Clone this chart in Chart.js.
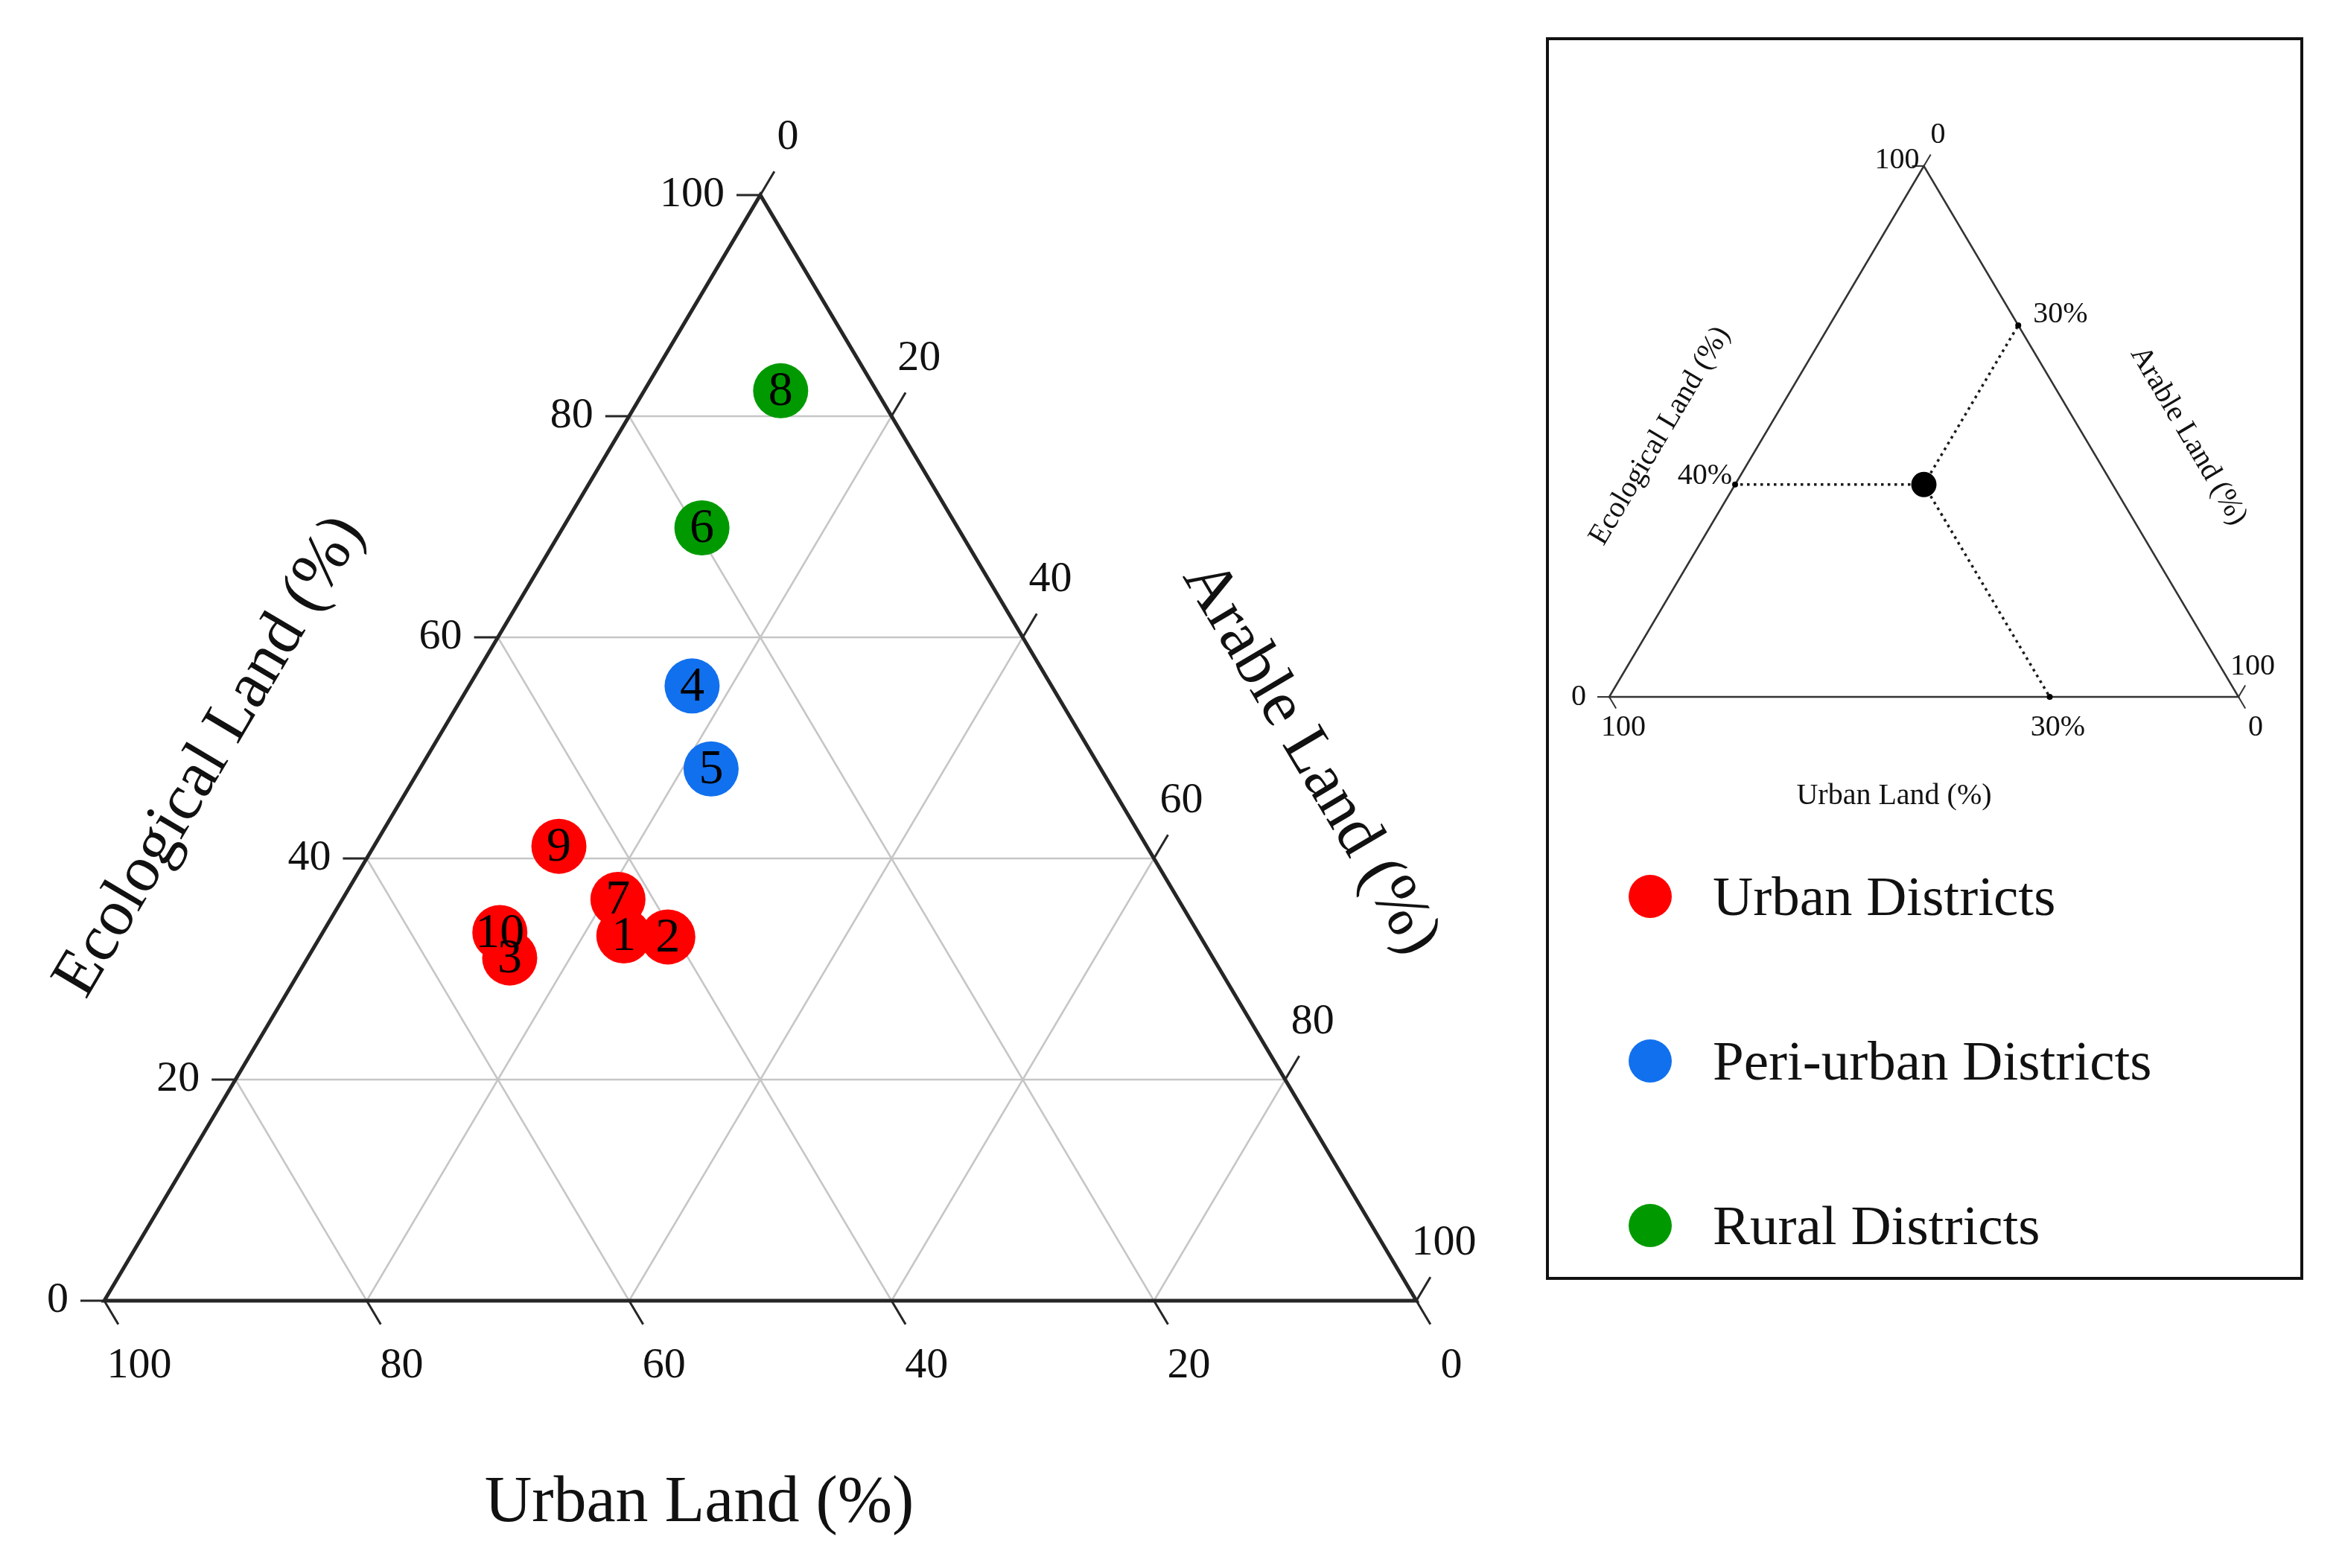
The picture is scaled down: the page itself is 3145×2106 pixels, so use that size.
<!DOCTYPE html>
<html>
<head>
<meta charset="utf-8">
<script src="https://cdn.jsdelivr.net/npm/chart.js@4.4.0/dist/chart.umd.min.js"></script>
<style>
  html, body { margin: 0; padding: 0; background: #fff; }
  body { width: 3145px; height: 2106px; position: relative; overflow: hidden; font-family: "Liberation Serif", "Times New Roman", serif; }
  #mainChart { position: absolute; left: 0; top: 0; }
  #keyBox { position: absolute; left: 2076px; top: 50px; width: 1017px; height: 1669px; border: 4px solid #111; box-sizing: border-box; }
  #keyChart { position: absolute; left: 0; top: 0; }
  #legend { position: absolute; left: 107px; top: 1110px; }
  .legend-row { display: flex; align-items: center; height: 80px; margin-bottom: 141px; }
  .legend-dot { width: 58px; height: 58px; border-radius: 50%; margin-right: 55px; }
  .legend-text { font-size: 75px; color: #111; white-space: nowrap; }
</style>
</head>
<body>
<canvas id="mainChart" width="2060" height="2106"></canvas>
<div id="keyBox">
  <canvas id="keyChart" width="1009" height="1050"></canvas>
  <div id="legend"></div>
</div>
<script>
// District composition (%)
const districtIds = [1, 2, 3, 4, 5, 6, 7, 8, 9, 10];
const districtType = ['Urban', 'Urban', 'Urban', 'Peri-urban', 'Peri-urban', 'Rural', 'Urban', 'Rural', 'Urban', 'Urban'];
const urbanLand = [43.9, 40.6, 53.6, 27.4, 29.7, 19.5, 42.7, 7.3, 44.8, 53.2];
const arableLand = [23.1, 26.5, 15.4, 17.0, 22.2, 10.6, 21.0, 10.4, 14.1, 13.5];
const ecologicalLand = [33.0, 32.9, 31.0, 55.6, 48.1, 69.9, 36.3, 82.3, 41.1, 33.3];

const groupKeys = ['Urban', 'Peri-urban', 'Rural'];
const groupNames = ['Urban Districts', 'Peri-urban Districts', 'Rural Districts'];
const groupColors = ['#ff0000', '#1170ee', '#009a00'];

// Axis ticks and grid
const tickValues = [0, 20, 40, 60, 80, 100];
const gridValues = [20, 40, 60, 80];

// Example point in the key: urban, arable, ecological
const keyUrban = 30;
const keyArable = 30;
const keyEcological = 40;

const SERIF = '"Liberation Serif", "Times New Roman", serif';

// ternary (urban, arable, ecological) -> plot coordinates
function toXY(u, a, e) {
    let s = u + a + e;
    return { x: (a + e / 2) / s * 100, y: e / s * 100 };
}

function toPixel(chart, u, a, e) {
    let p = toXY(u, a, e);
    return { x: chart.scales.x.getPixelForValue(p.x), y: chart.scales.y.getPixelForValue(p.y) };
}

function unit(dx, dy) {
    let l = Math.hypot(dx, dy);
    return { x: dx / l, y: dy / l };
}

function segment(ctx, x1, y1, x2, y2) {
    ctx.beginPath();
    ctx.moveTo(x1, y1);
    ctx.lineTo(x2, y2);
    ctx.stroke();
}

function rotatedText(ctx, text, x, y, angle) {
    ctx.save();
    ctx.translate(x, y);
    ctx.rotate(angle);
    ctx.textAlign = 'center';
    ctx.textBaseline = 'middle';
    ctx.fillText(text, 0, 0);
    ctx.restore();
}

function lineSet(points, color, width, order, dash) {
    return {
        data: points,
        showLine: true,
        borderColor: color,
        borderWidth: width,
        borderDash: dash || [],
        pointRadius: 0,
        pointHoverRadius: 0,
        fill: false,
        order: order,
        clip: false
    };
}

function frameSet(color, width) {
    let bl = toXY(100, 0, 0), top = toXY(0, 0, 100), br = toXY(0, 100, 0);
    let ds = lineSet([bl, top, br, bl, top], color, width, 1);
    ds.borderJoinStyle = 'miter';
    return ds;
}

// ---------- main ternary chart ----------
let districtSets = groupKeys.map((key, g) => ({
    label: groupNames[g],
    isDistricts: true,
    data: districtIds
        .map((id, i) => Object.assign(toXY(urbanLand[i], arableLand[i], ecologicalLand[i]), { id: id }))
        .filter((p, i) => districtType[i] === key),
    backgroundColor: groupColors[g],
    borderWidth: 0,
    pointRadius: 37,
    pointHoverRadius: 37,
    order: 0,
    clip: false
}));

let gridSets = [];
gridValues.forEach(v => {
    gridSets.push(lineSet([toXY(100 - v, 0, v), toXY(0, 100 - v, v)], '#c6c6c6', 2.5, 2));
    gridSets.push(lineSet([toXY(100 - v, v, 0), toXY(0, v, 100 - v)], '#c6c6c6', 2.5, 2));
    gridSets.push(lineSet([toXY(v, 100 - v, 0), toXY(v, 0, 100 - v)], '#c6c6c6', 2.5, 2));
});

const ternaryAxes = {
    id: 'ternaryAxes',
    afterDatasetsDraw(chart) {
        let ctx = chart.ctx;
        let bl = toPixel(chart, 100, 0, 0), top = toPixel(chart, 0, 0, 100), br = toPixel(chart, 0, 100, 0);
        let upRight = unit(top.x - bl.x, top.y - bl.y);
        let downRight = unit(br.x - top.x, br.y - top.y);
        ctx.save();
        ctx.strokeStyle = '#262626';
        ctx.lineWidth = 3;
        ctx.fillStyle = '#111';
        ctx.font = '58px ' + SERIF;
        ctx.textBaseline = 'middle';
        tickValues.forEach(v => {
            // Ecological Land, left side
            let p = toPixel(chart, 100 - v, 0, v);
            segment(ctx, p.x, p.y, p.x - 32, p.y);
            ctx.textAlign = 'right';
            ctx.fillText(String(v), p.x - 48, p.y);
            // Arable Land, right side
            p = toPixel(chart, 0, v, 100 - v);
            segment(ctx, p.x, p.y, p.x + upRight.x * 37, p.y + upRight.y * 37);
            ctx.textAlign = 'center';
            ctx.fillText(String(v), p.x + 37, p.y - 77);
            // Urban Land, bottom
            p = toPixel(chart, v, 100 - v, 0);
            segment(ctx, p.x, p.y, p.x + downRight.x * 37, p.y + downRight.y * 37);
            ctx.fillText(String(v), p.x + 47, p.y + 88);
        });

        // axis titles
        ctx.font = '88px ' + SERIF;
        let leftAngle = Math.atan2(top.y - bl.y, top.x - bl.x);
        let rightAngle = Math.atan2(br.y - top.y, br.x - top.x);
        rotatedText(ctx, 'Ecological Land (%)', (bl.x + top.x) / 2 - 298, (bl.y + top.y) / 2 + 12, leftAngle);
        rotatedText(ctx, 'Arable Land (%)', (br.x + top.x) / 2 + 298, (br.y + top.y) / 2 + 14, rightAngle);
        rotatedText(ctx, 'Urban Land (%)', (bl.x + br.x) / 2 - 82, bl.y + 273, 0);

        // district numbers on the points
        ctx.font = '66px ' + SERIF;
        ctx.fillStyle = '#000';
        ctx.textAlign = 'center';
        ctx.textBaseline = 'middle';
        chart.data.datasets.forEach((ds, di) => {
            if (!ds.isDistricts) return;
            chart.getDatasetMeta(di).data.forEach((el, j) => {
                ctx.fillText(String(ds.data[j].id), el.x, el.y + 2);
            });
        });
        ctx.restore();
    }
};

let mainChart = new Chart(document.getElementById('mainChart').getContext('2d'), {
    type: 'scatter',
    data: { datasets: districtSets.concat([frameSet('#262626', 5)], gridSets) },
    options: {
        responsive: false,
        animation: false,
        events: [],
        layout: { padding: { left: 140, right: 158, top: 262, bottom: 359 } },
        scales: {
            x: { type: 'linear', min: 0, max: 100, display: false },
            y: { type: 'linear', min: 0, max: 100, display: false }
        },
        plugins: { legend: { display: false }, tooltip: { enabled: false } }
    },
    plugins: [ternaryAxes]
});

// ---------- key: how to read the diagram ----------
let guideEnds = [
    toXY(100 - keyEcological, 0, keyEcological),
    toXY(0, keyArable, 100 - keyArable),
    toXY(keyUrban, 100 - keyUrban, 0)
];
let keyPoint = toXY(keyUrban, keyArable, keyEcological);

let keySets = [
    { data: [keyPoint], backgroundColor: '#000', borderWidth: 0, pointRadius: 17, pointHoverRadius: 17, order: 0, clip: false },
    { data: guideEnds, backgroundColor: '#000', borderWidth: 0, pointRadius: 4, pointHoverRadius: 4, order: 0, clip: false },
    frameSet('#333333', 2.5)
].concat(guideEnds.map(end => lineSet([keyPoint, end], '#1a1a1a', 3.5, 2, [3.5, 5.5])));

const keyAxes = {
    id: 'keyAxes',
    afterDatasetsDraw(chart) {
        let ctx = chart.ctx;
        let bl = toPixel(chart, 100, 0, 0), top = toPixel(chart, 0, 0, 100), br = toPixel(chart, 0, 100, 0);
        let upRight = unit(top.x - bl.x, top.y - bl.y);
        let downRight = unit(br.x - top.x, br.y - top.y);
        ctx.save();
        ctx.strokeStyle = '#333';
        ctx.lineWidth = 2;
        ctx.fillStyle = '#111';
        ctx.font = '40px ' + SERIF;
        ctx.textBaseline = 'middle';
        // small end ticks
        segment(ctx, bl.x, bl.y, bl.x - 16, bl.y);
        segment(ctx, top.x, top.y, top.x - 16, top.y);
        segment(ctx, top.x, top.y, top.x + upRight.x * 18, top.y + upRight.y * 18);
        segment(ctx, br.x, br.y, br.x + upRight.x * 18, br.y + upRight.y * 18);
        segment(ctx, bl.x, bl.y, bl.x + downRight.x * 18, bl.y + downRight.y * 18);
        segment(ctx, br.x, br.y, br.x + downRight.x * 18, br.y + downRight.y * 18);
        ctx.textAlign = 'center';
        ctx.fillText('100', top.x - 36, top.y - 8);
        ctx.fillText('0', top.x + 19, top.y - 42);
        ctx.fillText('0', bl.x - 41, bl.y);
        ctx.fillText('100', bl.x + 19, bl.y + 41);
        ctx.fillText('100', br.x + 19, br.y - 41);
        ctx.fillText('0', br.x + 23, br.y + 41);

        // values of the example point
        let left = toPixel(chart, 100 - keyEcological, 0, keyEcological);
        let right = toPixel(chart, 0, keyArable, 100 - keyArable);
        let bottom = toPixel(chart, keyUrban, 100 - keyUrban, 0);
        ctx.textAlign = 'right';
        ctx.fillText(keyEcological + '%', left.x - 4, left.y - 11);
        ctx.textAlign = 'left';
        ctx.fillText(keyArable + '%', right.x + 20, right.y - 14);
        ctx.textAlign = 'center';
        ctx.fillText(keyUrban + '%', bottom.x + 11, bottom.y + 41);

        // axis titles
        let leftAngle = Math.atan2(top.y - bl.y, top.x - bl.x);
        let rightAngle = Math.atan2(br.y - top.y, br.x - top.x);
        rotatedText(ctx, 'Ecological Land (%)', (bl.x + top.x) / 2 - 143, (bl.y + top.y) / 2 + 6, leftAngle);
        rotatedText(ctx, 'Arable Land (%)', (br.x + top.x) / 2 + 144, (br.y + top.y) / 2 + 6, rightAngle);
        rotatedText(ctx, 'Urban Land (%)', (bl.x + br.x) / 2 - 40, bl.y + 133, 0);
        ctx.restore();
    }
};

let keyChart = new Chart(document.getElementById('keyChart').getContext('2d'), {
    type: 'scatter',
    data: { datasets: keySets },
    options: {
        responsive: false,
        animation: false,
        events: [],
        layout: { padding: { left: 81, right: 83, top: 169, bottom: 168 } },
        scales: {
            x: { type: 'linear', min: 0, max: 100, display: false },
            y: { type: 'linear', min: 0, max: 100, display: false }
        },
        plugins: { legend: { display: false }, tooltip: { enabled: false } }
    },
    plugins: [keyAxes]
});

// legend built from the main chart's district datasets
let legendBox = document.getElementById('legend');
mainChart.data.datasets.filter(ds => ds.isDistricts).forEach(ds => {
    let row = document.createElement('div');
    row.className = 'legend-row';
    let dot = document.createElement('div');
    dot.className = 'legend-dot';
    dot.style.background = ds.backgroundColor;
    let text = document.createElement('div');
    text.className = 'legend-text';
    text.textContent = ds.label;
    row.appendChild(dot);
    row.appendChild(text);
    legendBox.appendChild(row);
});
</script>
</body>
</html>
